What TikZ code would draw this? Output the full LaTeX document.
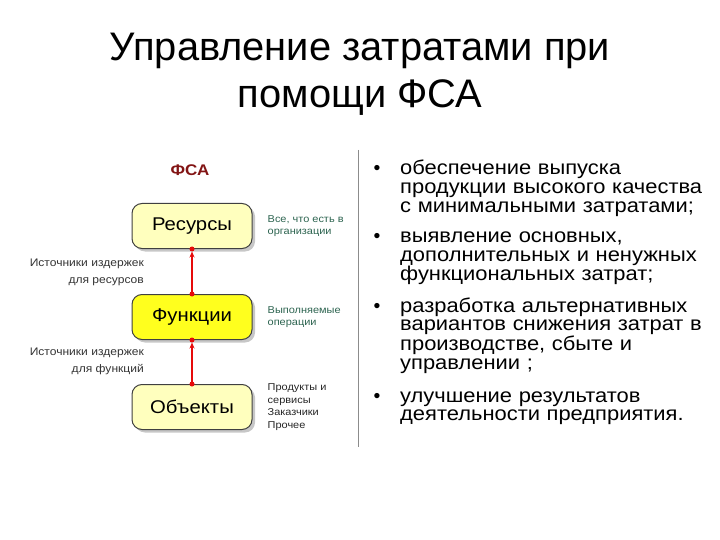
\documentclass[tikz,border=0pt]{standalone}
\usepackage{fontspec}
\setmainfont{Liberation Sans}
\newfontfamily\diagfont[FakeStretch=1.1]{Liberation Sans}
\newfontfamily\listfont[FakeStretch=1.1]{Liberation Sans}
\usetikzlibrary{arrows.meta,shadows,positioning}

\definecolor{fsared}{RGB}{130,20,20}
\definecolor{paleyellow}{RGB}{255,255,190}
\definecolor{brightyellow}{RGB}{255,255,30}
\definecolor{notegreen}{RGB}{45,100,80}
\definecolor{costred}{RGB}{230,10,10}

\tikzset{
	fsabox/.style={rectangle, rounded corners=10bp, draw=black!75, line width=1bp,
		minimum width=120bp, minimum height=45bp, font=\diagfont\fontsize{18.5}{20}\selectfont,
		drop shadow={shadow xshift=3bp, shadow yshift=-3bp, fill=black!22, opacity=1}},
	costline/.style={draw=costred, line width=1.5bp, -{Stealth[length=6bp,width=5bp]}, shorten >=2.5bp},
	costdot/.style={circle, fill=costred, inner sep=0pt, minimum size=5bp},
	costnote/.style={align=right, text=black!80, inner sep=0pt, font=\diagfont\fontsize{11}{17}\selectfont},
	boxnote/.style={align=left, inner sep=0pt, font=\diagfont\fontsize{10}{12.5}\selectfont},
	bullettext/.style={text width=320bp, align=left, inner sep=0pt, font=\listfont\fontsize{20}{18.8}\selectfont},
}

\begin{document}
\begin{tikzpicture}[x=1bp, y=-1bp]
	\useasboundingbox (0,0) rectangle (720,540);
	\def\boxX{192} % Centre of the boxes
	
	% Title
	\node[anchor=base, align=center, font=\fontsize{40}{48}\selectfont] (title) at (360,108)
		{Управление затратами при\\помощи ФСА};
	
	% Left part: the FSA scheme
	\node[font=\diagfont\bfseries\fontsize{15.5}{17}\selectfont, text=fsared] (fsa) at (190,170) {ФСА};
	
	\node[fsabox, fill=paleyellow] (res) at (\boxX,226) {Ресурсы};
	\node[fsabox, fill=brightyellow] (fun) at (\boxX,317) {Функции};
	\node[fsabox, fill=paleyellow] (obj) at (\boxX,407) {Объекты};
	
	% Cost arrows between the boxes
	\draw[costline] (fun.north) -- (res.south);
	\draw[costline] (obj.north) -- (fun.south);
	\foreach \b in {res.south, fun.north, fun.south, obj.north} {
		\node[costdot] at (\b) {};
	}
	
	% Notes left of the arrows
	\node[costnote, anchor=east] (srcres) at (144,272) {Источники издержек\\для ресурсов};
	\node[costnote, anchor=east] (srcfun) at (144,361) {Источники издержек\\для функций};
	
	% Notes right of the boxes
	\node[boxnote, text=notegreen, right=15bp of res] (resnote) {Все, что есть в\\организации};
	\node[boxnote, text=notegreen, right=15bp of fun] (funnote) {Выполняемые\\операции};
	\node[boxnote, text=black!85, right=15bp of obj] (objnote) {Продукты и\\сервисы\\Заказчики\\Прочее};
	
	% Separator
	\coordinate (septop) at (358,150);
	\coordinate (sepbot) at (358,447);
	\draw[black!45, line width=0.8bp] (septop) -- (sepbot);
	
	% Right part: the bullet list
	\foreach \y/\txt [count=\i] in {
		175/{обеспечение выпуска\\продукции высокого качества\\с минимальными затратами;},
		243/{выявление основных,\\дополнительных и ненужных\\функциональных затрат;},
		312/{разработка альтернативных\\вариантов снижения затрат в\\производстве, сбыте и\\управлении ;},
		402/{улучшение результатов\\деятельности предприятия.}} {
		\node[bullettext, anchor=base west] (item\i) at (400,\y) {\txt};
		\node[anchor=base, inner sep=0pt, font=\fontsize{19.5}{18.8}\selectfont] (dot\i) at (377,\y) {•};
	}
\end{tikzpicture}
\end{document}
